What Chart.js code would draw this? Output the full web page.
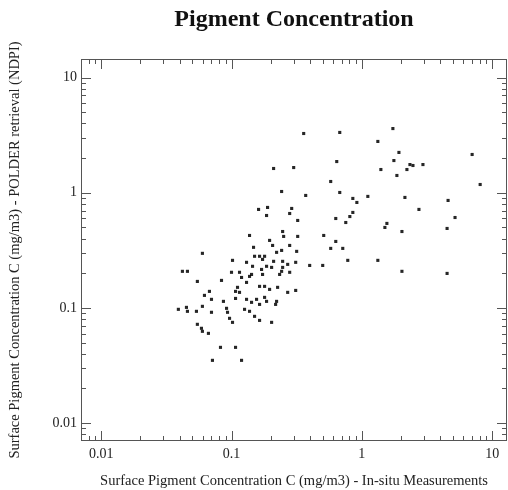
<!DOCTYPE html>
<html>
<head>
<meta charset="utf-8">
<script src="https://cdn.jsdelivr.net/npm/chart.js@4"></script>
<style>
  body { margin: 0; background: #fff; }
  #wrap { width: 508px; height: 490px; }
</style>
</head>
<body>
<div id="wrap"><canvas id="myChart" width="508" height="490"></canvas></div>
<script>

// in-situ measurement (x) vs POLDER retrieval (y), mg/m3
let xVals = [
  0.358, 0.677, 1.731, 1.327, 1.926, 0.642, 1.762, 2.34, 2.468, 2.944,
  2.218, 1.4, 1.858, 7.02, 8.09, 0.577, 0.371, 0.677, 0.853, 0.916,
  1.112, 2.141, 4.59, 0.853, 0.809, 0.631, 0.753, 5.19, 2.743, 1.557,
  1.503, 2.031, 4.51, 0.51, 0.631, 0.577, 0.714, 0.78, 1.327, 0.398,
  0.501, 2.031, 4.51,
  0.2104, 0.3, 0.2424, 0.1613, 0.1891, 0.1858, 0.2896, 0.2795, 0.322, 0.1375,
  0.2468, 0.2512, 0.196, 0.2067, 0.1476, 0.2795, 0.322, 0.0598, 0.3162, 0.2424,
  0.2218, 0.1503, 0.1642, 0.1794, 0.1018, 0.1304, 0.1731, 0.1858, 0.2104, 0.2468,
  0.2698, 0.3108, 0.145, 0.1701, 0.1731, 0.2031, 0.2468, 0.2424, 0.234, 0.2795,
  0.042, 0.0459, 0.1, 0.1152, 0.1425, 0.1194, 0.1375, 0.0547, 0.0838, 0.1304,
  0.1112, 0.1642, 0.1794, 0.196, 0.2258, 0.2698, 0.3108, 0.0677, 0.1074, 0.062,
  0.1152, 0.0867, 0.0702, 0.1074, 0.1304, 0.1557, 0.1794, 0.1858, 0.2218, 0.218,
  0.1642, 0.1425, 0.0451, 0.0391, 0.0538, 0.0598, 0.0702, 0.0916, 0.0932, 0.1259,
  0.1375, 0.1503, 0.0966, 0.1642, 0.2031, 0.0547, 0.1018, 0.0588, 0.0598, 0.0665,
  0.0823, 0.1074, 0.0714, 0.1194, 0.0459
];
let yVals = [
  3.27, 3.34, 3.61, 2.79, 2.24, 1.867, 1.905, 1.758, 1.725, 1.758,
  1.592, 1.592, 1.413, 2.15, 1.18, 1.253, 0.948, 1.006, 0.893, 0.824,
  0.93, 0.911, 0.858, 0.675, 0.622, 0.598, 0.552, 0.61, 0.717, 0.542,
  0.5, 0.461, 0.49, 0.426, 0.378, 0.329, 0.329, 0.259, 0.259, 0.234,
  0.234, 0.208, 0.1995,
  1.625, 1.656, 1.026, 0.717, 0.746, 0.635, 0.731, 0.661, 0.575, 0.426,
  0.461, 0.418, 0.386, 0.349, 0.336, 0.349, 0.418, 0.298, 0.31, 0.316,
  0.304, 0.281, 0.281, 0.281, 0.259, 0.249, 0.264, 0.23, 0.254, 0.254,
  0.239, 0.249, 0.23, 0.216, 0.1955, 0.225, 0.225, 0.208, 0.1955, 0.204,
  0.208, 0.208, 0.204, 0.204, 0.1955, 0.184, 0.188, 0.17, 0.1735, 0.1667,
  0.151, 0.154, 0.154, 0.145, 0.151, 0.1366, 0.142, 0.1393, 0.1393, 0.1286,
  0.1366, 0.1141, 0.1188, 0.121, 0.1188, 0.1188, 0.1236, 0.1141, 0.1141, 0.1074,
  0.1074, 0.1119, 0.1012, 0.0973, 0.0935, 0.1033, 0.0917, 0.0993, 0.0917, 0.0973,
  0.0935, 0.0846, 0.0813, 0.078, 0.075, 0.0721, 0.075, 0.0666, 0.0627, 0.0602,
  0.0455, 0.0455, 0.0351, 0.0351, 0.0935
];

let xRange = [0.007, 13];
let yRange = [0.007, 14.5];
let decadeLabels = ["0.01", "0.1", "1", "10"];

let points = [];
xVals.forEach((v, i) => {
  points.push({x: v, y: yVals[i]});
});

function tickLabel(value) {
  let s = String(Number(value.toPrecision(6)));
  return decadeLabels.includes(s) ? s : "";
}

// IDL style: box round the plot, ticks pointing inwards on all four sides
const boxTicks = {
  id: "boxTicks",
  afterDatasetsDraw(chart) {
    const {ctx, chartArea: a, scales} = chart;
    ctx.save();
    ctx.strokeStyle = "#555";
    ctx.lineWidth = 1;
    ctx.strokeRect(a.left + 0.5, a.top + 0.5, a.right - a.left - 1, a.bottom - a.top - 1);

    ctx.beginPath();
    scales.x.ticks.forEach(t => {
      let e = Math.floor(Math.log10(t.value) + 1e-9);
      let m = t.value / Math.pow(10, e);
      if (Math.abs(m - Math.round(m)) > 1e-6) return;
      let len = Math.round(m) == 1 ? 10 : 5;
      let px = Math.round(scales.x.getPixelForValue(t.value)) + 0.5;
      if (px < a.left + 1 || px > a.right - 1) return;
      ctx.moveTo(px, a.bottom);
      ctx.lineTo(px, a.bottom - len);
      ctx.moveTo(px, a.top);
      ctx.lineTo(px, a.top + len);
    });
    scales.y.ticks.forEach(t => {
      let e = Math.floor(Math.log10(t.value) + 1e-9);
      let m = t.value / Math.pow(10, e);
      if (Math.abs(m - Math.round(m)) > 1e-6) return;
      let len = Math.round(m) == 1 ? 10 : 5;
      let py = Math.round(scales.y.getPixelForValue(t.value)) + 0.5;
      if (py < a.top + 1 || py > a.bottom - 1) return;
      ctx.moveTo(a.left, py);
      ctx.lineTo(a.left + len, py);
      ctx.moveTo(a.right, py);
      ctx.lineTo(a.right - len, py);
    });
    ctx.stroke();
    ctx.restore();
  }
};

const ctx = document.getElementById("myChart");

new Chart(ctx, {
  type: "scatter",
  data: {
    datasets: [{
      label: "Pigment",
      data: points,
      pointStyle: "rect",
      pointRadius: 2.2,
      pointBorderWidth: 0,
      backgroundColor: "rgba(0,0,0,0.85)"
    }]
  },
  options: {
    responsive: false,
    animation: false,
    layout: { autoPadding: false, padding: { right: 1 } },
    plugins: {
      legend: { display: false },
      tooltip: { enabled: false },
      title: {
        display: true,
        text: "Pigment Concentration",
        fullSize: false,
        color: "#111",
        font: { family: "Liberation Serif", size: 24, weight: "bold" },
        padding: { top: 5.5, bottom: 24.7 }
      }
    },
    scales: {
      x: {
        type: "logarithmic",
        min: xRange[0],
        max: xRange[1],
        grid: { display: false, drawTicks: false },
        border: { display: false },
        afterFit: s => { s.height = 49; s.paddingLeft = 0; s.paddingRight = 0; },
        ticks: {
          autoSkip: false,
          maxRotation: 0,
          padding: 5,
          color: "#222",
          font: { family: "Liberation Serif", size: 14 },
          callback: v => tickLabel(v)
        },
        title: {
          display: true,
          text: "Surface Pigment Concentration C (mg/m3) - In-situ Measurements",
          color: "#222",
          font: { family: "Liberation Serif", size: 14.5 },
          padding: { top: 0, bottom: 0 }
        }
      },
      y: {
        type: "logarithmic",
        min: yRange[0],
        max: yRange[1],
        grid: { display: false, drawTicks: false },
        border: { display: false },
        afterFit: s => { s.width = 81; s.paddingTop = 0; s.paddingBottom = 0; },
        ticks: {
          autoSkip: false,
          padding: 4,
          color: "#222",
          font: { family: "Liberation Serif", size: 14 },
          callback: v => tickLabel(v)
        },
        title: {
          display: true,
          text: "Surface Pigment Concentration C (mg/m3) - POLDER retrieval (NDPI)",
          color: "#222",
          font: { family: "Liberation Serif", size: 14.5 },
          padding: { top: 6, bottom: 0 }
        }
      }
    }
  },
  plugins: [boxTicks]
});

</script>
</body>
</html>
